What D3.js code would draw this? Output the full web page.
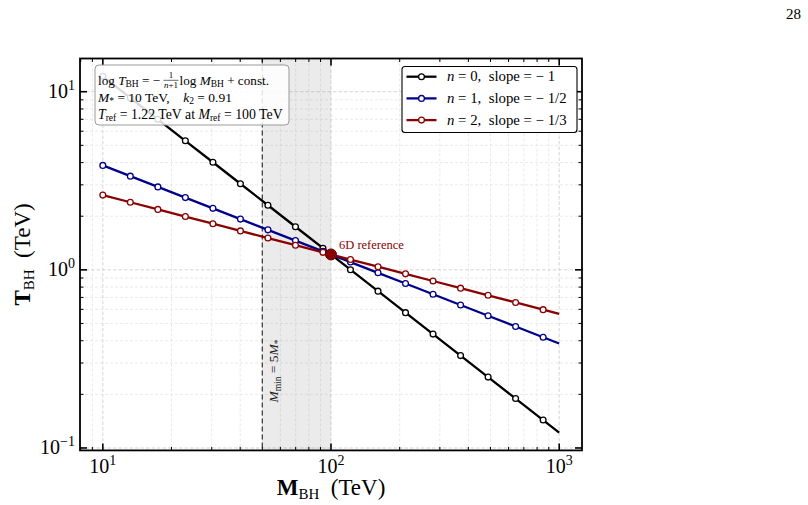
<!DOCTYPE html>
<html>
<head>
<meta charset="utf-8">
<script src="https://cdn.jsdelivr.net/npm/d3@7"></script>
<style>
  html, body { margin: 0; padding: 0; background: #fff; }
  svg { display: block; }
  text { font-family: "Liberation Serif", "DejaVu Serif", serif; white-space: pre; }
</style>
</head>
<body>
<svg id="chart" width="808" height="505"></svg>
<script>
// ---------------- data ----------------
const massBH = [10, 13.2, 17.43, 23.0, 30.37, 40.09, 52.92, 69.87, 92.22, 121.7,
                160.7, 212.1, 280.0, 369.7, 488.0, 644.2, 850.4, 1000];
const tempN0 = [12.2, 9.24, 7.0, 5.30, 4.017, 3.043, 2.305, 1.746, 1.323, 1.002,
                0.759, 0.575, 0.4357, 0.330, 0.250, 0.1894, 0.1435, 0.122];
const tempN1 = [3.858, 3.358, 2.922, 2.544, 2.214, 1.927, 1.677, 1.4595, 1.2704, 1.1059,
                0.9624, 0.8377, 0.7291, 0.6345, 0.5523, 0.4807, 0.4184, 0.3858];
const tempN2 = [2.628, 2.396, 2.184, 1.991, 1.815, 1.6544, 1.5082, 1.3749, 1.2534, 1.1427,
                1.0416, 0.9496, 0.8657, 0.7891, 0.7194, 0.6558, 0.5978, 0.5663];
const markedPoints = 17;            // first 17 samples carry a marker
const seriesN = ["0", "1", "2"];
const seriesSlopes = ["\u22121", "\u22121/2", "\u22121/3"];
const refPoint = [100, 1.22];       // 6D reference (M_ref, T_ref)
const mMin = 50;                    // M_min = 5 M_*
const xTicks = [10, 100, 1000];
const xTickExp = ["1", "2", "3"];
const yTicks = [0.1, 1, 10];
const yTickExp = ["\u22121", "0", "1"];

// ---------------- layout ----------------
const svg = d3.select("#chart");
const L = 80, R = 582, T = 58.5, B = 450.4;
const x = d3.scaleLog().domain([Math.pow(10, 0.9), Math.pow(10, 3.1)]).range([L, R]);
const y = d3.scaleLog().domain([Math.pow(10, -1.0136), Math.pow(10, 1.1864)]).range([B, T]);

const colors = ["#000000", "#00008b", "#8b0000"];
const series = [tempN0, tempN1, tempN2];

function minors(scale) {
  const [a, b] = scale.domain();
  const out = [];
  for (let e = Math.floor(Math.log10(a)); e <= Math.ceil(Math.log10(b)); e++) {
    for (let m = 2; m <= 9; m++) {
      const v = m * Math.pow(10, e);
      if (v >= a && v <= b) out.push(v);
    }
  }
  return out;
}
const xMinor = minors(x), yMinor = minors(y);

const plot = svg.append("g");
plot.append("defs").append("clipPath").attr("id", "clip")
  .append("rect").attr("x", L).attr("y", T).attr("width", R - L).attr("height", B - T);

// grid
const grid = plot.append("g");
xMinor.forEach(v => grid.append("line").attr("x1", x(v)).attr("x2", x(v)).attr("y1", T).attr("y2", B)
  .attr("stroke", "#e4e4e4").attr("stroke-width", 0.8).attr("stroke-dasharray", "3,2"));
yMinor.forEach(v => grid.append("line").attr("y1", y(v)).attr("y2", y(v)).attr("x1", L).attr("x2", R)
  .attr("stroke", "#e4e4e4").attr("stroke-width", 0.8).attr("stroke-dasharray", "3,2"));
xTicks.forEach(v => grid.append("line").attr("x1", x(v)).attr("x2", x(v)).attr("y1", T).attr("y2", B)
  .attr("stroke", "#d0d0d0").attr("stroke-width", 0.9).attr("stroke-dasharray", "3.5,2"));
yTicks.forEach(v => grid.append("line").attr("y1", y(v)).attr("y2", y(v)).attr("x1", L).attr("x2", R)
  .attr("stroke", "#d0d0d0").attr("stroke-width", 0.9).attr("stroke-dasharray", "3.5,2"));

// shaded region
plot.append("rect").attr("x", x(mMin)).attr("y", T).attr("width", x(refPoint[0]) - x(mMin)).attr("height", B - T)
  .attr("fill", "#808080").attr("fill-opacity", 0.16);
plot.append("line").attr("x1", x(mMin)).attr("x2", x(mMin)).attr("y1", T).attr("y2", B)
  .attr("stroke", "#404040").attr("stroke-width", 1.3).attr("stroke-dasharray", "5,3");
const rt = plot.append("text").attr("transform", `translate(${x(mMin) + 16},${371}) rotate(-90)`)
  .attr("text-anchor", "middle").attr("font-size", 13.5).attr("fill", "#222");
rt.append("tspan").attr("font-style", "italic").text("M");
rt.append("tspan").attr("font-size", 9.5).attr("dy", 3).text("min");
rt.append("tspan").attr("dy", -3).text(" = 5");
rt.append("tspan").attr("font-style", "italic").text("M");
rt.append("tspan").attr("font-size", 9.5).attr("dy", 3).text("*");

// lines
const lineGen = d3.line().x((d, i) => x(massBH[i])).y(d => y(d));
const linesG = plot.append("g").attr("clip-path", "url(#clip)");
series.forEach((s, k) => {
  linesG.append("path").datum(s).attr("d", lineGen).attr("fill", "none")
    .attr("stroke", colors[k]).attr("stroke-width", 2.3).attr("stroke-linejoin", "round");
  linesG.selectAll(null).data(s.slice(0, markedPoints)).enter().append("circle")
    .attr("cx", (d, i) => x(massBH[i])).attr("cy", d => y(d)).attr("r", 2.9)
    .attr("fill", "#fff").attr("stroke", colors[k]).attr("stroke-width", 1.3);
});

// reference point
plot.append("circle").attr("cx", x(refPoint[0])).attr("cy", y(refPoint[1])).attr("r", 5.5)
  .attr("fill", "#8b0000").attr("stroke", "#5a0000").attr("stroke-width", 1);
plot.append("text").attr("x", x(refPoint[0]) + 8).attr("y", y(refPoint[1]) - 5)
  .attr("font-size", 12.5).attr("fill", "#8b0000").text("6D reference");

// ticks (inward, all four sides)
const ax = svg.append("g").attr("stroke", "#000");
function tick(x1, y1, x2, y2, w) { ax.append("line").attr("x1", x1).attr("y1", y1).attr("x2", x2).attr("y2", y2).attr("stroke-width", w); }
xTicks.forEach(v => { tick(x(v), B, x(v), B - 7, 1.6); tick(x(v), T, x(v), T + 7, 1.6); });
xMinor.forEach(v => { tick(x(v), B, x(v), B - 3.5, 1.0); tick(x(v), T, x(v), T + 3.5, 1.0); });
yTicks.forEach(v => { tick(L, y(v), L + 7, y(v), 1.6); tick(R, y(v), R - 7, y(v), 1.6); });
yMinor.forEach(v => { tick(L, y(v), L + 3.5, y(v), 1.0); tick(R, y(v), R - 3.5, y(v), 1.0); });
svg.append("rect").attr("x", L).attr("y", T).attr("width", R - L).attr("height", B - T)
  .attr("fill", "none").attr("stroke", "#000").attr("stroke-width", 1.8);

// tick labels
xTicks.forEach((v, i) => {
  const t = svg.append("text").attr("x", x(v)).attr("y", 473).attr("text-anchor", "middle").attr("font-size", 20);
  t.append("tspan").text("10");
  t.append("tspan").attr("font-size", 14).attr("dy", -8).text(xTickExp[i]);
});
yTicks.forEach((v, i) => {
  const t = svg.append("text").attr("x", 75).attr("y", y(v) + 6.5).attr("text-anchor", "end").attr("font-size", 20);
  t.append("tspan").text("10");
  t.append("tspan").attr("font-size", 14).attr("dy", -8).text(yTickExp[i]);
});

// axis labels
const xl = svg.append("text").attr("x", (L + R) / 2).attr("y", 495).attr("text-anchor", "middle").attr("font-size", 23);
xl.append("tspan").attr("font-weight", "bold").text("M");
xl.append("tspan").attr("font-size", 15).attr("dy", 4).text("BH");
xl.append("tspan").attr("dy", -4).text("  (TeV)");
const yl = svg.append("text").attr("transform", `translate(30,${(T + B) / 2}) rotate(-90)`).attr("text-anchor", "middle").attr("font-size", 23);
yl.append("tspan").attr("font-weight", "bold").text("T");
yl.append("tspan").attr("font-size", 15).attr("dy", 4).text("BH");
yl.append("tspan").attr("dy", -4).text("  (TeV)");

// annotation box
svg.append("rect").attr("x", 95).attr("y", 65).attr("width", 194).attr("height", 60).attr("rx", 4)
  .attr("fill", "#fff").attr("fill-opacity", 0.85).attr("stroke", "#9a9a9a").attr("stroke-width", 1);
const fs = 13.5, ss = 9.5;
const l1a = svg.append("text").attr("x", 98).attr("y", 84.5).attr("font-size", 13.2);
l1a.append("tspan").text("log ");
l1a.append("tspan").attr("font-style", "italic").text("T");
l1a.append("tspan").attr("font-size", ss).attr("dy", 2.5).text("BH");
l1a.append("tspan").attr("dy", -2.5).text(" = \u2212 ");
const endA = 98 + l1a.node().getComputedTextLength();
const fw = 15;
svg.append("text").attr("x", endA + fw / 2).attr("y", 77.5).attr("text-anchor", "middle").attr("font-size", 9).text("1");
svg.append("line").attr("x1", endA).attr("x2", endA + fw).attr("y1", 80.3).attr("y2", 80.3).attr("stroke", "#000").attr("stroke-width", 0.6);
const den = svg.append("text").attr("x", endA + fw / 2).attr("y", 88).attr("text-anchor", "middle").attr("font-size", 9);
den.append("tspan").attr("font-style", "italic").text("n");
den.append("tspan").text("+1");
const l1b = svg.append("text").attr("x", endA + fw + 1).attr("y", 84.5).attr("font-size", 13.2);
l1b.append("tspan").text("log ");
l1b.append("tspan").attr("font-style", "italic").text("M");
l1b.append("tspan").attr("font-size", ss).attr("dy", 2.5).text("BH");
l1b.append("tspan").attr("dy", -2.5).text(" + const.");

const l2 = svg.append("text").attr("x", 98).attr("y", 101.5).attr("font-size", fs);
l2.append("tspan").attr("font-style", "italic").text("M");
l2.append("tspan").attr("font-size", ss).attr("dy", 2.5).text("*");
l2.append("tspan").attr("dy", -2.5).text(" = 10 TeV,    ");
l2.append("tspan").attr("font-style", "italic").text("k");
l2.append("tspan").attr("font-size", ss).attr("dy", 2.5).text("2");
l2.append("tspan").attr("dy", -2.5).text(" = 0.91");

const l3 = svg.append("text").attr("x", 98).attr("y", 118.5).attr("font-size", 13.8);
l3.append("tspan").attr("font-style", "italic").text("T");
l3.append("tspan").attr("font-size", ss).attr("dy", 2.5).text("ref");
l3.append("tspan").attr("dy", -2.5).text(" = 1.22 TeV at ");
l3.append("tspan").attr("font-style", "italic").text("M");
l3.append("tspan").attr("font-size", ss).attr("dy", 2.5).text("ref");
l3.append("tspan").attr("dy", -2.5).text(" = 100 TeV");

// legend
svg.append("rect").attr("x", 402).attr("y", 66.5).attr("width", 175).attr("height", 66).attr("rx", 3)
  .attr("fill", "#fff").attr("stroke", "#000").attr("stroke-width", 1.1);
series.forEach((s, k) => {
  const yy = 76.7 + k * 21.7;
  svg.append("line").attr("x1", 406.5).attr("x2", 436.5).attr("y1", yy).attr("y2", yy)
    .attr("stroke", colors[k]).attr("stroke-width", 2.3);
  svg.append("circle").attr("cx", 421.5).attr("cy", yy).attr("r", 2.9)
    .attr("fill", "#fff").attr("stroke", colors[k]).attr("stroke-width", 1.3);
  const t = svg.append("text").attr("x", 447).attr("y", yy + 4.7).attr("font-size", 14.8);
  t.append("tspan").attr("font-style", "italic").text("n");
  t.append("tspan").text(" = " + seriesN[k] + ",  slope = " + seriesSlopes[k].replace("\u2212", "\u2212 "));
});

// page number
svg.append("text").attr("x", 801).attr("y", 19).attr("text-anchor", "end").attr("font-size", 15).text("28");
</script>
</body>
</html>
